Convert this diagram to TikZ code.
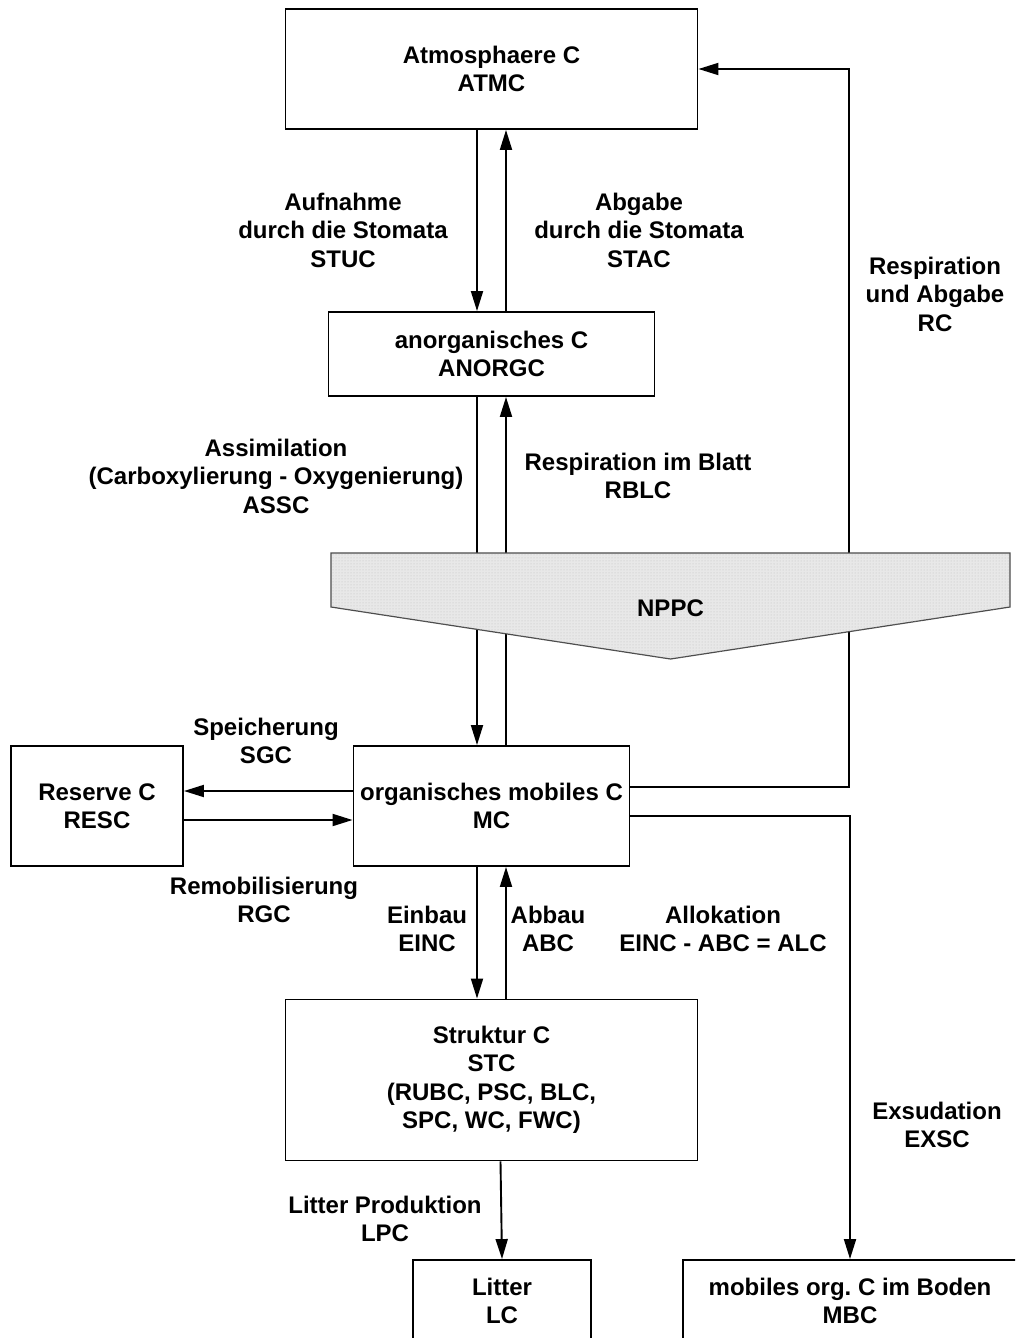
\documentclass[tikz,border=0pt]{standalone}
\usepackage{fontspec}
\setmainfont{Liberation Sans}
\usepackage{tikz}
\usetikzlibrary{arrows.meta,patterns}

\begin{document}
\begin{tikzpicture}[x=1pt,y=-1pt,->,>={Triangle[length=20pt,width=12pt]},line width=1.9pt,
  box node/.style={draw,rectangle,align=center,inner sep=0pt,
  font=\bfseries\fontsize{24}{28.5}\selectfont},
  label node/.style={align=center,inner sep=0pt,
  font=\bfseries\fontsize{24}{28.5}\selectfont}]

  \useasboundingbox (0,0) rectangle (1015,1338);
  \clip (0,0) rectangle (1015,1338);

  \node[box node,minimum width=412pt,minimum height=120pt] (Atm) at (491.5,69) {Atmosphaere C\\ATMC};
  \node[box node,minimum width=326pt,minimum height=84pt] (Anorg) at (491.5,354) {anorganisches C\\ANORGC};
  \node[box node,minimum width=276pt,minimum height=120pt] (Mob) at (491.5,806) {organisches mobiles C\\MC};
  \node[box node,minimum width=172pt,minimum height=120pt] (Res) at (97,806) {Reserve C\\RESC};
  \node[box node,minimum width=412pt,minimum height=161pt] (Str) at (491.5,1080) {Struktur C\\STC\\(RUBC, PSC, BLC,\\SPC, WC, FWC)};
  \node[box node,minimum width=178pt,minimum height=82pt] (Lit) at (502,1301) {Litter\\LC};
  \node[box node,minimum width=334pt,minimum height=82pt] (Boden) at (850,1301) {mobiles org.\ C im Boden\\MBC};
  \coordinate (rcturn) at (849,69);

  \draw ([xshift=-14.5pt]Atm.south) -- ([xshift=-14.5pt]Anorg.north);
  \draw ([xshift=14.5pt]Anorg.north) -- ([xshift=14.5pt]Atm.south);
  \draw ([xshift=-14.5pt]Anorg.south) -- ([xshift=-14.5pt]Mob.north);
  \draw ([xshift=14.5pt]Mob.north) -- ([xshift=14.5pt]Anorg.south);
  \draw ([yshift=19pt]Mob.east) -| (rcturn) -- (Atm.east);
  \draw ([yshift=-10pt]Mob.east) -| (Boden.north);
  \draw ([yshift=15pt]Mob.west) -- ([yshift=15pt]Res.east);
  \draw ([yshift=-14pt]Res.east) -- ([yshift=-14pt]Mob.west);
  \draw ([xshift=-14.5pt]Mob.south) -- ([xshift=-14.5pt]Str.north);
  \draw ([xshift=14.5pt]Str.north) -- ([xshift=14.5pt]Mob.south);
  \draw ([xshift=9pt]Str.south) -- (Lit.north);

  \filldraw[-,fill=black!9,draw=black!70,line width=1.2pt] (331,553) -- (1010,553) -- (1010,607) -- (670.5,659) -- (331,607) -- cycle;
  \fill[pattern=dots,pattern color=black!25] (331,553) -- (1010,553) -- (1010,607) -- (670.5,659) -- (331,607) -- cycle;
  \node[label node] (Nppc) at (670.5,608) {NPPC};

  \node[label node] (Aufn) at (343,230) {Aufnahme\\durch die Stomata\\STUC};
  \node[label node] (Abg) at (639,230) {Abgabe\\durch die Stomata\\STAC};
  \node[label node] (Resp) at (935,294) {Respiration\\und Abgabe\\RC};
  \node[label node] (Assim) at (276,476) {Assimilation\\(Carboxylierung - Oxygenierung)\\ASSC};
  \node[label node] (Rblatt) at (638,476) {Respiration im Blatt\\RBLC};
  \node[label node] (Speich) at (266,741) {Speicherung\\SGC};
  \node[label node] (Remob) at (264,900) {Remobilisierung\\RGC};
  \node[label node] (Einb) at (427,929) {Einbau\\EINC};
  \node[label node] (Abb) at (548,929) {Abbau\\ABC};
  \node[label node] (Alloc) at (723,929) {Allokation\\EINC - ABC = ALC};
  \node[label node] (Exsud) at (937,1125) {Exsudation\\EXSC};
  \node[label node] (Litprod) at (385,1219) {Litter Produktion\\LPC};
\end{tikzpicture}
\end{document}
